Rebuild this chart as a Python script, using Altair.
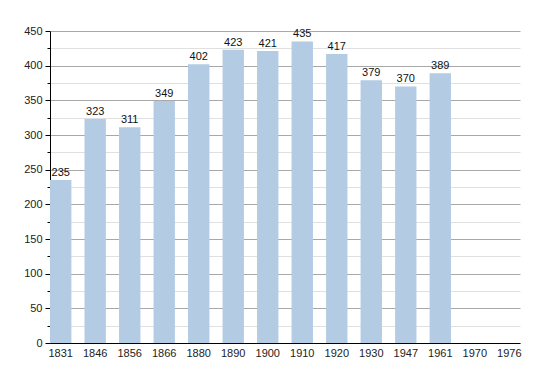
import altair as alt
import pandas as pd

years = ["1831", "1846", "1856", "1866", "1880", "1890", "1900", "1910", "1920", "1930", "1947", "1961", "1970", "1976"]
population = [235, 323, 311, 349, 402, 423, 421, 435, 417, 379, 370, 389, None, None]

df = pd.DataFrame({"year": years, "pop": population})

FONT = "Liberation Sans"

x = alt.X("year:N", sort=years, title=None,
          scale=alt.Scale(paddingInner=0.38, paddingOuter=0),
          axis=alt.Axis(labelAngle=0, ticks=False, domainColor="#000", labelFont=FONT,
                        labelFontSize=11, labelColor="#222", labelPadding=4, grid=False))

y = alt.Y("pop:Q", title=None,
          scale=alt.Scale(domain=[0, 450], nice=False, zero=True),
          axis=alt.Axis(values=list(range(0, 451, 25)),
                        labelOverlap=False, labelBound=False,
                        labelExpr="datum.value % 50 === 0 ? datum.label : ''",
                        gridColor={"condition": {"test": "datum.value % 50 === 0", "value": "#a8a8a8"}, "value": "#e0e0e0"},
                        tickSize={"condition": {"test": "datum.value % 50 === 0", "value": 5}, "value": 3},
                        tickColor="#000", domainColor="#000", labelFont=FONT, labelFontSize=11,
                        labelColor="#222", labelPadding=3))

base = alt.Chart(df).encode(x=x, y=y)
bars = base.mark_bar(color="#b3cce4")
text = base.mark_text(baseline="bottom", dy=-2, font=FONT, fontSize=11, color="#111").encode(text="pop:Q")

chart = alt.layer(bars, text).properties(
    width=470, height=312,
    autosize=alt.AutoSizeParams(type="none"),
    padding={"left": 42, "top": 23, "right": 20, "bottom": 30},
).configure_view(stroke=None)

chart.save("out.html", embed_options={"renderer": "svg", "actions": False})
